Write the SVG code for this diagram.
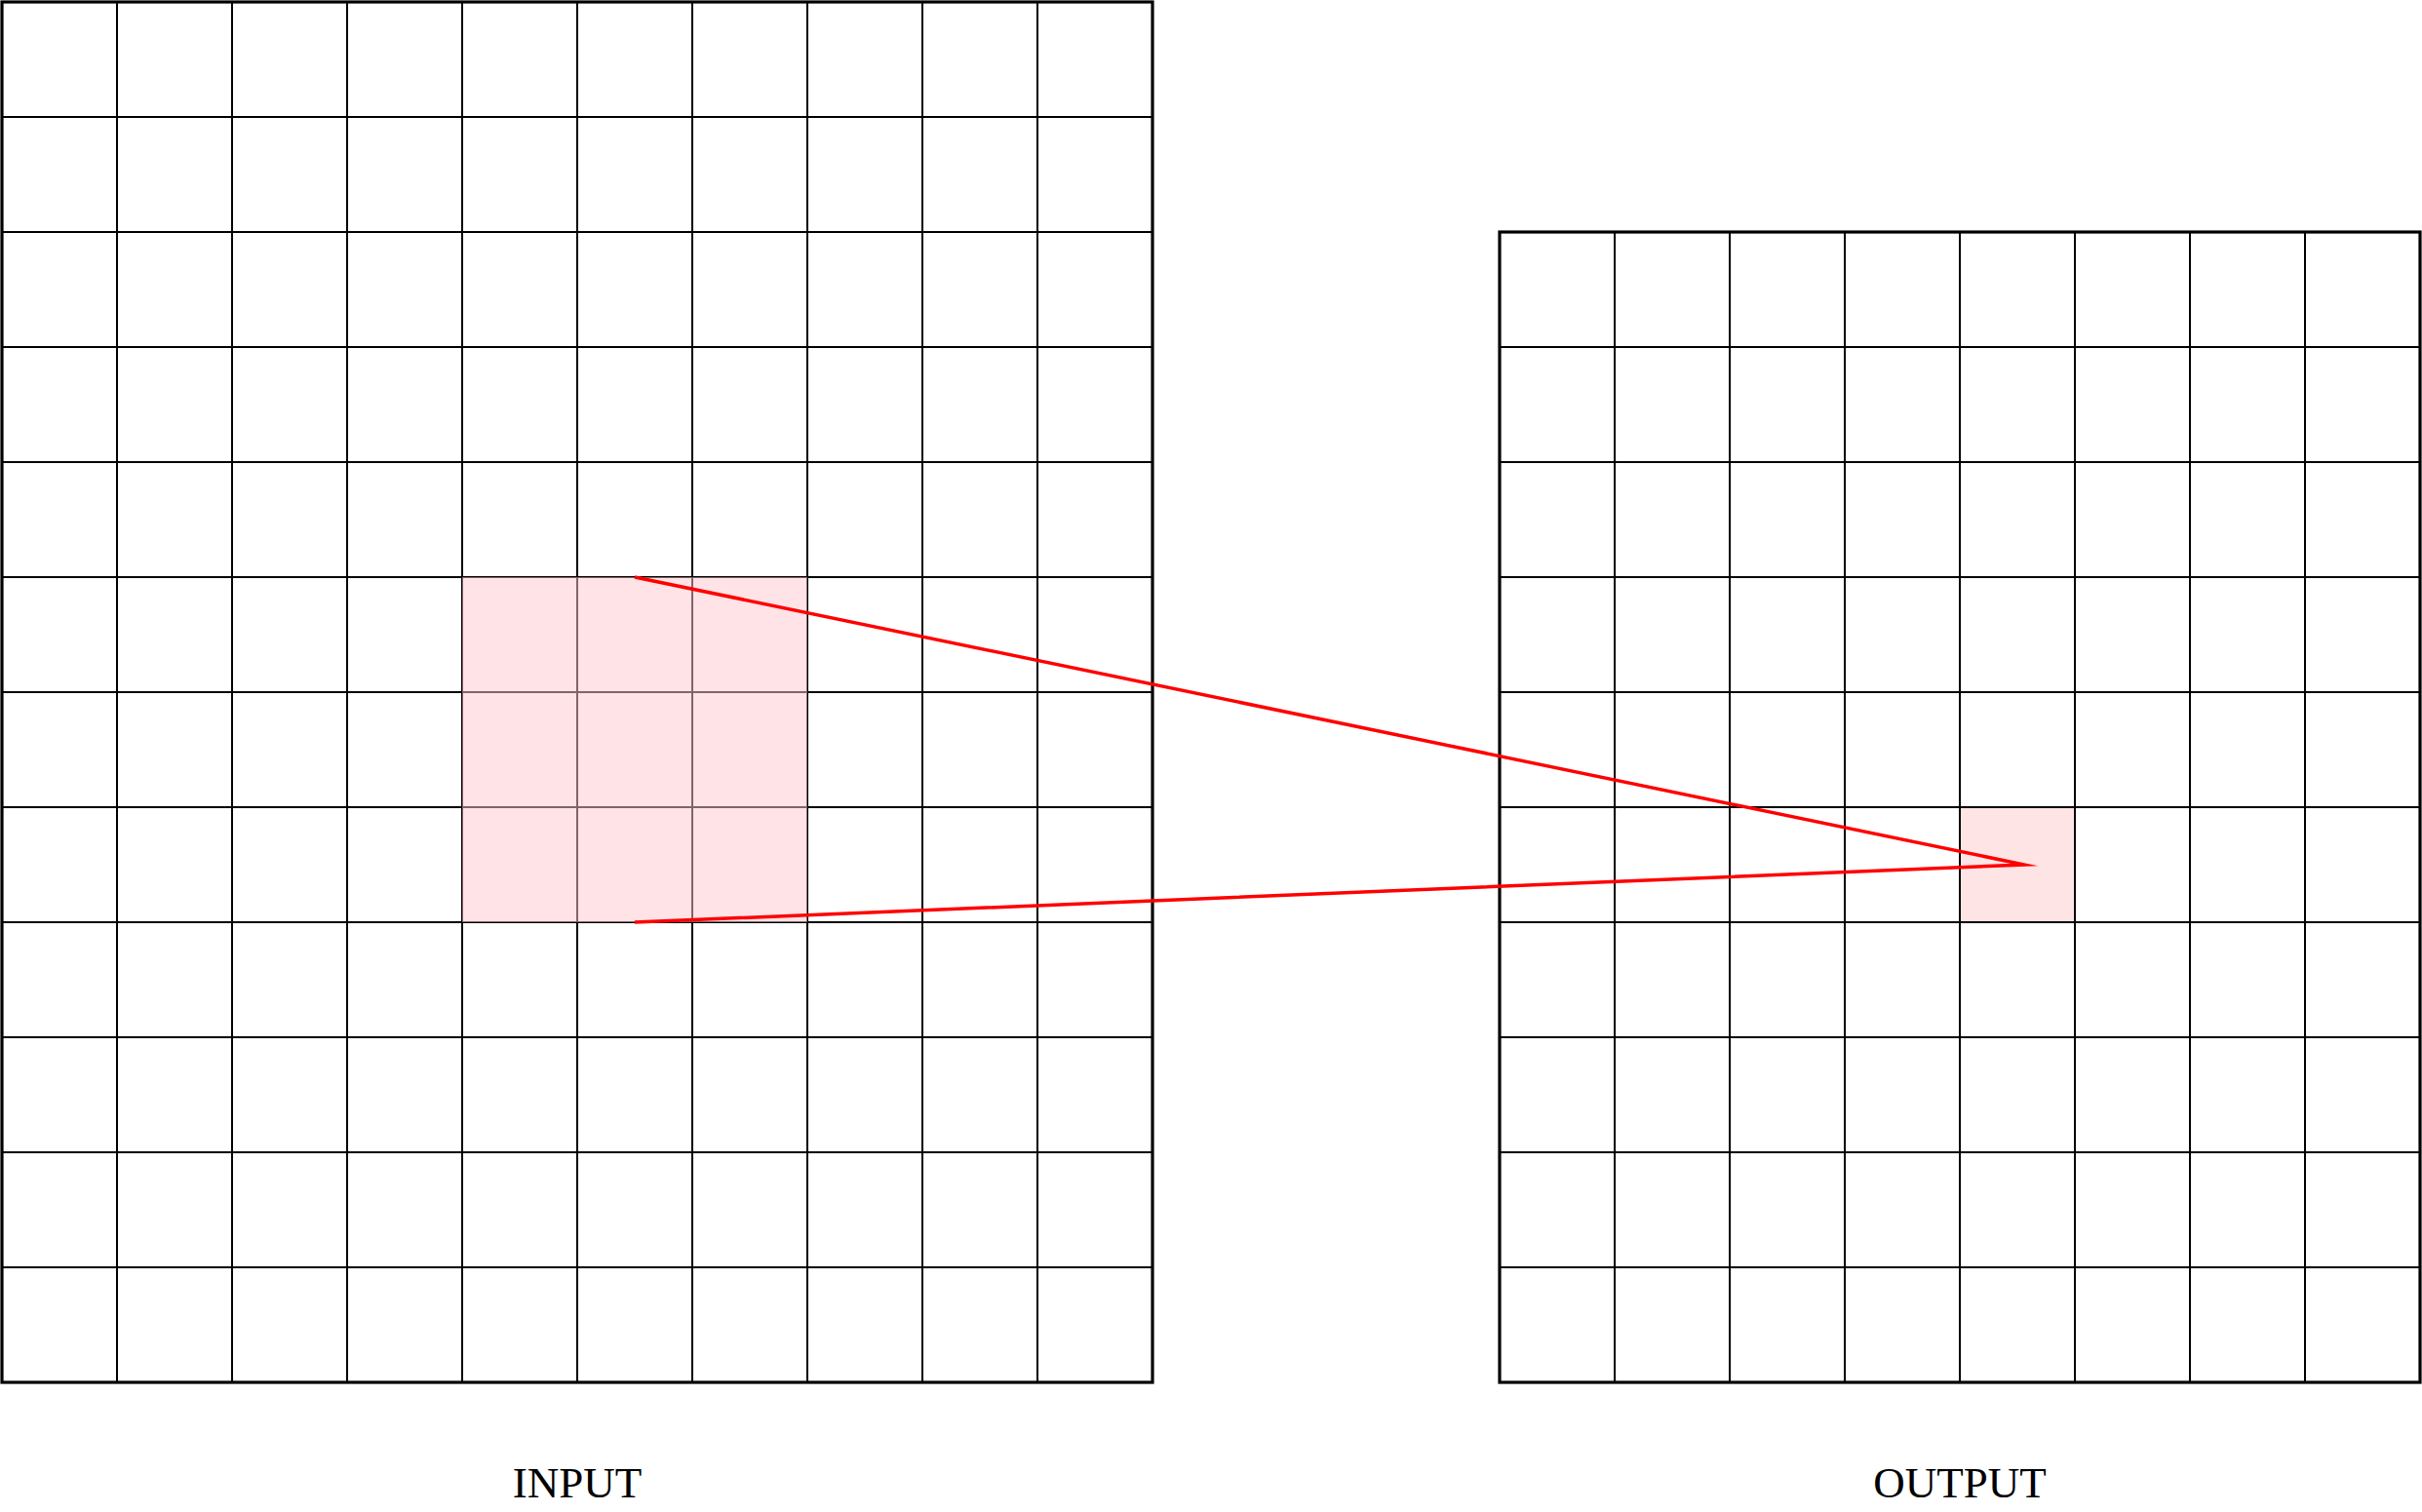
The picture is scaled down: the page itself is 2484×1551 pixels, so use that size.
<svg xmlns="http://www.w3.org/2000/svg" width="2484" height="1551" viewBox="0 0 2484 1551">
<defs>
<style>
.bg{fill:#ffffff}
.grid{stroke:#000;stroke-width:2;fill:none}
.frame{stroke:#000;stroke-width:3.2;fill:none}
.hl{fill:#ffc8cd;fill-opacity:0.5}
.hl2{fill:#ffe4e6}
.conn{stroke:#ff0000;stroke-width:3.5;fill:none;stroke-linejoin:miter;stroke-miterlimit:50}
.lbl{font-family:"Liberation Serif","DejaVu Serif",serif;font-size:45px;fill:#000;text-anchor:middle}
</style>
</defs>
<rect class="bg" x="0" y="0" width="2484" height="1551"/>
<g id="input">
<path class="grid" d="M120 2V1418M238 2V1418M356 2V1418M474 2V1418M592 2V1418M710 2V1418M828 2V1418M946 2V1418M1064 2V1418M2 120H1182M2 238H1182M2 356H1182M2 474H1182M2 592H1182M2 710H1182M2 828H1182M2 946H1182M2 1064H1182M2 1182H1182M2 1300H1182"/>
<rect class="frame" x="2" y="2" width="1180" height="1416"/>
<rect id="input-window" class="hl" x="474" y="592" width="354" height="354"/>
<text class="lbl" x="592" y="1536">INPUT</text>
</g>
<g id="output">
<rect id="output-cell" class="hl2" x="2010" y="828" width="118" height="118"/>
<path class="grid" d="M1656 238V1418M1774 238V1418M1892 238V1418M2010 238V1418M2128 238V1418M2246 238V1418M2364 238V1418M1538 356H2482M1538 474H2482M1538 592H2482M1538 710H2482M1538 828H2482M1538 946H2482M1538 1064H2482M1538 1182H2482M1538 1300H2482"/>
<rect class="frame" x="1538" y="238" width="944" height="1180"/>
<text class="lbl" x="2010" y="1536">OUTPUT</text>
</g>
<g id="connectors">
<polyline class="conn" points="651,592 2076,887 651,946"/>
</g>
</svg>
